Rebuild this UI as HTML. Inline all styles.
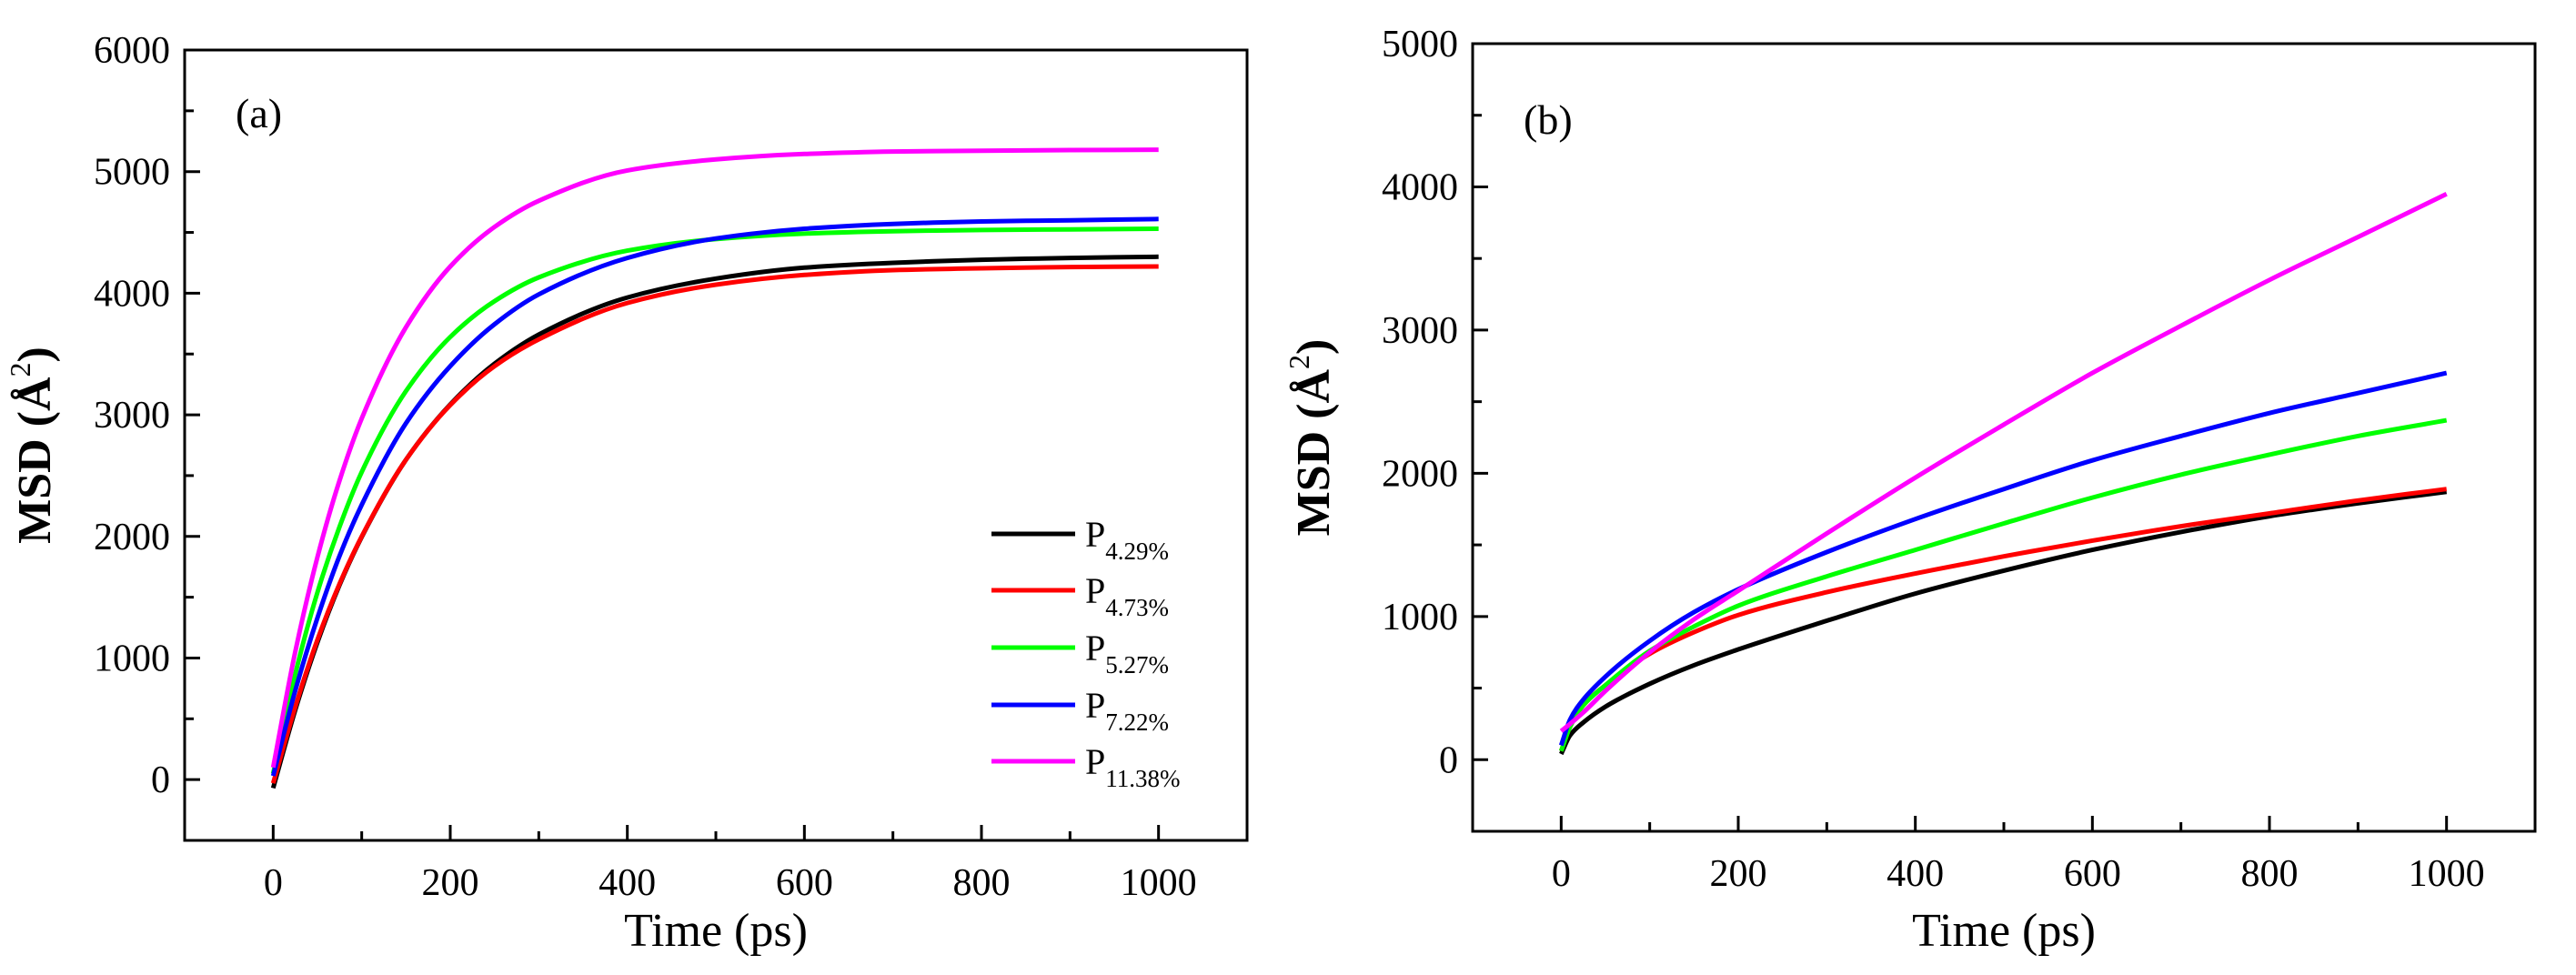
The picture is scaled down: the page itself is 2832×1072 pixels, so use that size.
<!DOCTYPE html>
<html><head><meta charset="utf-8"><style>
html,body{margin:0;padding:0;background:#fff;}
svg{display:block;font-family:"Liberation Serif",serif;}
</style></head><body>
<svg id="chart" width="2832" height="1072" xmlns="http://www.w3.org/2000/svg">
<rect width="2832" height="1072" fill="#fff"/>
</svg>
<script>
const seriesNames = ["P4.29%","P4.73%","P5.27%","P7.22%","P11.38%"];
const subLabels = ["4.29%","4.73%","5.27%","7.22%","11.38%"];
const colors = ["#000000","#ff0000","#00ff00","#0000ff","#ff00ff"];
const xTicks = [0,200,400,600,800,1000];
const yTicksA = [0,1000,2000,3000,4000,5000,6000];
const yTicksB = [0,1000,2000,3000,4000,5000];
const timeA = [0,25,50,75,100,150,200,250,300,400,500,600,700,800,900,1000];
const blackA = [-70,575,1130,1600,1995,2630,3085,3420,3660,3965,4120,4210,4250,4275,4290,4300];
const redA = [-30,600,1150,1610,2000,2630,3080,3400,3620,3920,4070,4150,4190,4205,4215,4220];
const greenA = [50,870,1540,2080,2530,3195,3640,3935,4130,4350,4445,4490,4510,4520,4525,4530];
const blueA = [30,735,1330,1840,2260,2930,3400,3745,3990,4290,4450,4530,4570,4590,4600,4610];
const magentaA = [100,1055,1830,2460,2970,3720,4220,4545,4760,5010,5100,5145,5165,5172,5177,5180];
const timeB = [0,10,25,50,100,150,200,300,400,500,600,700,800,900,1000];
const blackB = [40,170,260,370,530,660,770,970,1160,1320,1465,1590,1700,1790,1870];
const redB = [60,230,380,520,740,890,1010,1170,1300,1420,1530,1630,1720,1810,1890];
const greenB = [60,230,380,520,760,930,1075,1280,1465,1650,1830,1990,2130,2260,2370];
const blueB = [100,280,420,580,830,1030,1190,1450,1680,1890,2090,2260,2420,2560,2700];
const magentaB = [200,250,330,480,750,980,1180,1580,1970,2340,2700,3030,3350,3650,3950];

const NS="http://www.w3.org/2000/svg";
const svg=document.getElementById('chart');
function mk(tag,attrs,parent){const e=document.createElementNS(NS,tag);for(const k in attrs)e.setAttribute(k,attrs[k]);(parent||svg).appendChild(e);return e;}

function monotonePath(pts){
  const n=pts.length,dx=[],s=[],m=[];
  for(let i=0;i<n-1;i++){dx[i]=pts[i+1][0]-pts[i][0];s[i]=(pts[i+1][1]-pts[i][1])/dx[i];}
  m[0]=s[0];m[n-1]=s[n-2];
  for(let i=1;i<n-1;i++){
    if(s[i-1]*s[i]<=0)m[i]=0;
    else{const w1=2*dx[i]+dx[i-1],w2=dx[i]+2*dx[i-1];m[i]=(w1+w2)/(w1/s[i-1]+w2/s[i]);}
  }
  let d='M'+pts[0][0].toFixed(1)+','+pts[0][1].toFixed(1);
  for(let i=0;i<n-1;i++){
    const h=dx[i]/3;
    d+=' C'+(pts[i][0]+h).toFixed(1)+','+(pts[i][1]+m[i]*h).toFixed(1)+' '+(pts[i+1][0]-h).toFixed(1)+','+(pts[i+1][1]-m[i+1]*h).toFixed(1)+' '+pts[i+1][0].toFixed(1)+','+pts[i+1][1].toFixed(1);
  }
  return d;
}

function panel(cfg){
  const g=mk('g',{});
  
  
  const L=cfg.left,R=cfg.right,T=cfg.top,B=cfg.bottom;
  const xs=v=>L+(v-(-100))/(1200)*(R-L);
  const ys=v=>B-(v-cfg.ymin)/(cfg.ymax-cfg.ymin)*(B-T);
  cfg.series.forEach((vals,si)=>{
    const pts=cfg.time.map((t,i)=>[xs(t),ys(vals[i])]);
    const p=mk('path',{d:monotonePath(pts),fill:'none',stroke:colors[si],'stroke-width':5,'stroke-linejoin':'round'},g);
    
    
  });
  const fr=mk('rect',{x:L,y:T,width:R-L,height:B-T,fill:'none',stroke:'#000','stroke-width':3},g);
  
  
  for(let v=0;v<=1000;v+=100){
    const major=v%200===0;
    mk('line',{x1:xs(v),x2:xs(v),y1:B,y2:B-(major?17:10),stroke:'#000','stroke-width':3},g);
  }
  xTicks.forEach(v=>{
    const t=mk('text',{x:xs(v),y:B+60,'font-size':42,'text-anchor':'middle'},g);
    t.textContent=v;
    
    
  });
  for(let v=cfg.ymin;v<=cfg.ymax;v+=500){
    const major=v%1000===0;
    mk('line',{x1:L,x2:L+(major?17:10),y1:ys(v),y2:ys(v),stroke:'#000','stroke-width':3},g);
  }
  cfg.yTicks.forEach(v=>{
    const t=mk('text',{x:L-16,y:ys(v)+14,'font-size':42,'text-anchor':'end'},g);
    t.textContent=v;
    
    
  });
  const xt=mk('text',{x:(L+R)/2,y:1040,'font-size':52,'text-anchor':'middle'},g);
  xt.textContent='Time (ps)';
  
  
  const yt=mk('text',{x:0,y:0,'font-size':52,'font-weight':'bold','text-anchor':'middle',transform:'translate('+(L-cfg.ytOff)+','+((T+B)/2)+') rotate(-90)'},g);
  yt.innerHTML='MSD (Å<tspan font-size="32" dy="-22" font-weight="normal">2</tspan><tspan dy="22">)</tspan>';
  
  
  const pl=mk('text',{x:L+56,y:cfg.labelY,'font-size':46},g);
  pl.textContent=cfg.label;
  
  
}

panel({name:'panel-a',left:203,right:1371,top:55,bottom:924,ymin:-500,ymax:6000,yTicks:yTicksA,time:timeA,
  series:[blackA,redA,greenA,blueA,magentaA],label:'(a)',labelY:140,ytOff:148});
panel({name:'panel-b',left:1619,right:2787,top:48,bottom:914,ymin:-500,ymax:5000,yTicks:yTicksB,time:timeB,
  series:[blackB,redB,greenB,blueB,magentaB],label:'(b)',labelY:147,ytOff:158});

const lg=mk('g',{});


const legY=[587,649,712,775,837];
seriesNames.forEach((n,i)=>{
  const e=mk('g',{},lg);
  
  
  mk('line',{x1:1090,x2:1182,y1:legY[i],y2:legY[i],stroke:colors[i],'stroke-width':5},e);
  const t=mk('text',{x:1193,y:legY[i]+14,'font-size':40},e);
  t.innerHTML='P<tspan font-size="27" dy="14">'+subLabels[i]+'</tspan>';
});
</script>
</body></html>
